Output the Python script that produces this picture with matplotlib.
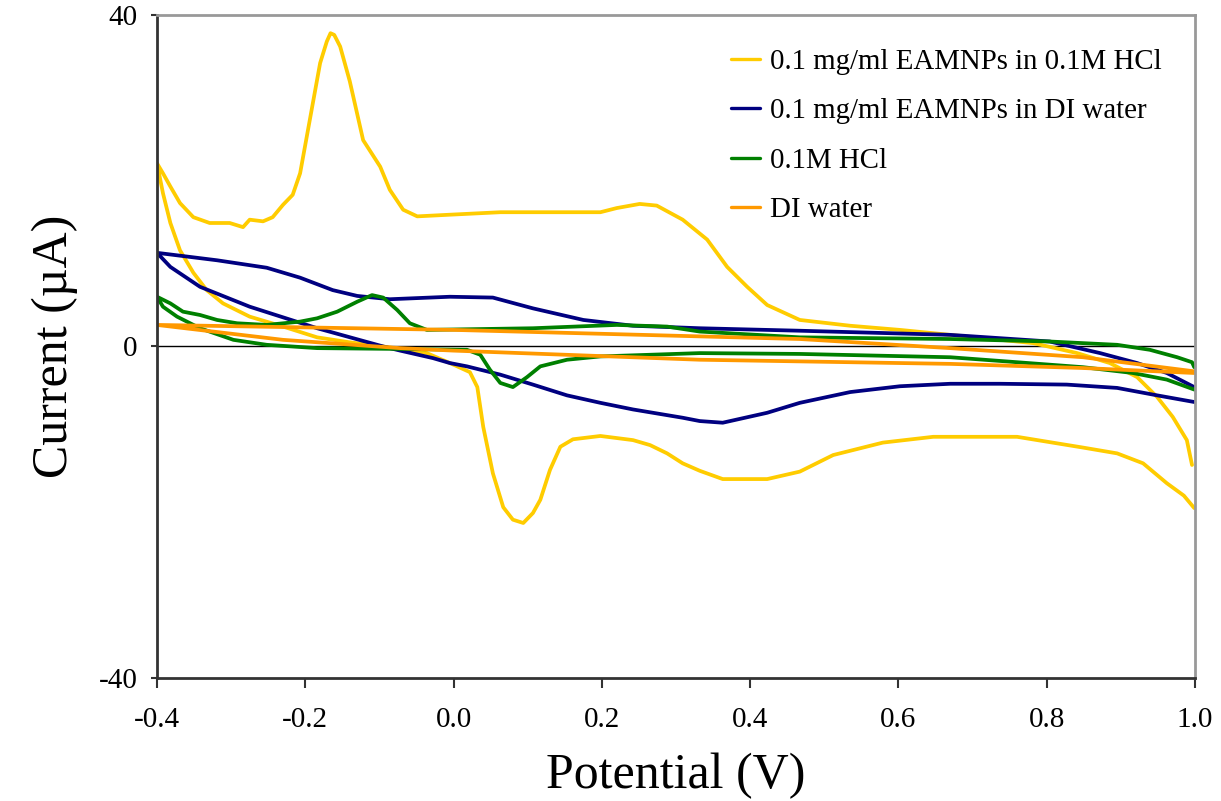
import numpy as np
import matplotlib
matplotlib.use("Agg")
import matplotlib.pyplot as plt

plt.rcParams['font.family'] = ['Liberation Serif', 'DejaVu Serif']

# ---- data (potential V, current uA); each loop: cathodic branch (1.0 -> -0.4) then anodic branch (-0.4 -> 1.0)
hcl_np_lower_v = [0.999, 0.985, 0.962, 0.930, 0.895, 0.849, 0.760, 0.670, 0.647, 0.579, 0.512, 0.467, 0.423, 0.363,
                  0.332, 0.309, 0.288, 0.265, 0.242, 0.198, 0.161, 0.144, 0.130, 0.117, 0.107, 0.094, 0.080,
                  0.067, 0.053, 0.040, 0.032, 0.022, -0.005, -0.036, -0.095, -0.140, -0.184, -0.230, -0.275,
                  -0.311, -0.333, -0.351, -0.369, -0.382, -0.392, -0.400]
hcl_np_lower_i = [-19.5, -18.0, -16.5, -14.1, -12.9, -12.2, -10.9, -10.9, -10.9, -11.6, -13.1, -15.1, -16.0, -16.0,
                  -15.0, -14.1, -12.9, -11.9, -11.3, -10.8, -11.2, -12.1, -14.9, -18.5, -20.1, -21.3, -20.9,
                  -19.4, -15.3, -9.7, -4.9, -3.1, -2.0, -0.8, 0.0, 0.5, 1.1, 2.4, 3.6,
                  5.2, 6.8, 8.9, 11.6, 14.9, 18.5, 22.1]
hcl_np_upper_v = [-0.400, -0.392, -0.382, -0.369, -0.351, -0.329, -0.302, -0.284, -0.275, -0.257, -0.244,
                  -0.230, -0.217, -0.207, -0.194, -0.180, -0.171, -0.166, -0.161, -0.153, -0.140, -0.122, -0.099,
                  -0.086, -0.068, -0.049, -0.005, 0.063, 0.107, 0.198, 0.220, 0.251, 0.274, 0.309, 0.342,
                  0.369, 0.396, 0.423, 0.467, 0.535, 0.602, 0.670, 0.782, 0.841, 0.885, 0.922, 0.949,
                  0.970, 0.989, 0.996]
hcl_np_upper_i = [22.1, 20.9, 19.3, 17.3, 15.6, 14.9, 14.9, 14.4, 15.3, 15.1, 15.6,
                  17.1, 18.3, 20.9, 27.3, 34.2, 36.8, 37.8, 37.6, 36.2, 32.0, 24.9, 21.7,
                  18.9, 16.5, 15.7, 15.9, 16.2, 16.2, 16.2, 16.7, 17.2, 17.0, 15.3, 12.9,
                  9.6, 7.2, 5.0, 3.2, 2.5, 2.0, 1.4, 0.4, -0.8, -2.0, -3.7, -6.1,
                  -8.5, -11.3, -14.3]

di_np_lower_v = [0.999, 0.949, 0.895, 0.827, 0.737, 0.670, 0.602, 0.535, 0.467, 0.423, 0.363, 0.332, 0.309,
                 0.242, 0.198, 0.153, 0.107, 0.063, 0.018, -0.005, -0.028, -0.072, -0.095, -0.184, -0.275,
                 -0.342, -0.382, -0.400]
di_np_lower_i = [-6.7, -5.9, -5.0, -4.6, -4.5, -4.5, -4.8, -5.5, -6.8, -8.0, -9.2, -9.0, -8.6,
                 -7.6, -6.8, -5.9, -4.6, -3.4, -2.4, -2.0, -1.4, -0.5, 0.0, 2.2, 4.8,
                 7.2, 9.6, 11.3]
di_np_upper_v = [-0.400, -0.319, -0.252, -0.207, -0.163, -0.130, -0.086, -0.005, 0.053, 0.107, 0.175, 0.242,
                 0.332, 0.467, 0.670, 0.804, 0.872, 0.922, 0.962, 0.999]
di_np_upper_i = [11.3, 10.4, 9.5, 8.3, 6.8, 6.1, 5.7, 6.0, 5.9, 4.6, 3.2, 2.5,
                 2.2, 1.9, 1.4, 0.6, -0.8, -2.0, -3.2, -4.9]

hcl_lower_v = [0.999, 0.962, 0.916, 0.849, 0.760, 0.670, 0.467, 0.332, 0.198, 0.153, 0.117, 0.099, 0.080,
               0.063, 0.049, 0.036, 0.018, -0.072, -0.184, -0.252, -0.297, -0.342, -0.373, -0.392, -0.400]
hcl_lower_i = [-5.2, -4.0, -3.2, -2.5, -1.9, -1.3, -0.9, -0.8, -1.2, -1.6, -2.4, -3.7, -4.9,
               -4.4, -2.8, -1.0, -0.4, -0.3, -0.2, 0.2, 0.8, 2.2, 3.6, 4.8, 6.0]
hcl_upper_v = [-0.400, -0.382, -0.365, -0.342, -0.319, -0.292, -0.252, -0.207, -0.184, -0.157, -0.130,
               -0.110, -0.095, -0.076, -0.059, -0.036, 0.107, 0.220, 0.288, 0.332, 0.467, 0.670, 0.804,
               0.895, 0.939, 0.976, 0.996, 0.999]
hcl_upper_i = [6.0, 5.2, 4.2, 3.8, 3.2, 2.8, 2.6, 3.0, 3.4, 4.2, 5.4,
               6.2, 5.9, 4.4, 2.8, 2.0, 2.2, 2.6, 2.4, 1.8, 1.1, 0.9, 0.6,
               0.2, -0.4, -1.3, -1.9, -2.5]

di_lower_v = [0.999, 0.849, 0.670, 0.332, 0.000, -0.072, -0.230, -0.400]
di_lower_i = [-3.2, -2.6, -2.1, -1.6, -0.5, -0.2, 0.8, 2.6]
di_upper_v = [-0.400, 0.000, 0.467, 0.670, 0.849, 0.999]
di_upper_i = [2.6, 2.0, 0.9, -0.2, -1.3, -3.0]

labels = ["0.1 mg/ml EAMNPs in 0.1M HCl", "0.1 mg/ml EAMNPs in DI water", "0.1M HCl", "DI water"]
colors = ["#FFCC00", "#000080", "#008000", "#FF9900"]

series = [
    (hcl_np_lower_v + hcl_np_upper_v, hcl_np_lower_i + hcl_np_upper_i),
    (di_np_lower_v + di_np_upper_v, di_np_lower_i + di_np_upper_i),
    (hcl_lower_v + hcl_upper_v, hcl_lower_i + hcl_upper_i),
    (di_lower_v + di_upper_v, di_lower_i + di_upper_i),
]

fig = plt.figure(figsize=(12.21, 8.01), dpi=100)
ax = fig.add_axes([0.1286, 0.1536, 0.8501, 0.8277])

ax.axhline(0, color='black', lw=1.0, zorder=1)
for (v, i), c, lab in zip(series, colors, labels):
    ax.plot(v, i, color=c, lw=2.7, label=lab, zorder=2,
            solid_joinstyle='round', solid_capstyle='round')

ax.set_xlim(-0.4, 1.0)
ax.set_ylim(-40, 40)
ax.set_xticks([-0.4, -0.2, 0.0, 0.2, 0.4, 0.6, 0.8, 1.0])
ax.set_xticklabels(["-0.4", "-0.2", "0.0", "0.2", "0.4", "0.6", "0.8", "1.0"])
ax.set_yticks([-40, 0, 40])
ax.set_yticklabels(["-40", "0", "40"])
ax.tick_params(axis='x', direction='out', length=7, width=1.5, labelsize=21, pad=14, color='#333333')
ax.tick_params(axis='y', direction='out', length=4, width=1.5, labelsize=21, pad=10, color='#333333')

for s in ['left', 'bottom']:
    ax.spines[s].set_color('#333333')
    ax.spines[s].set_linewidth(2)
for s in ['top', 'right']:
    ax.spines[s].set_color('#999999')
    ax.spines[s].set_linewidth(2)

ax.set_xlabel("Potential (V)", fontsize=36, labelpad=14)
ax.set_ylabel("Current (µA)", fontsize=36, labelpad=15)

leg = ax.legend(loc='upper right', frameon=False, fontsize=20.8, handlelength=1.0,
                handletextpad=0.35, labelspacing=0.8, bbox_to_anchor=(0.9935, 0.988))
for h in leg.get_lines():
    h.set_linewidth(2.4)

fig.savefig("out.png", dpi=100)
